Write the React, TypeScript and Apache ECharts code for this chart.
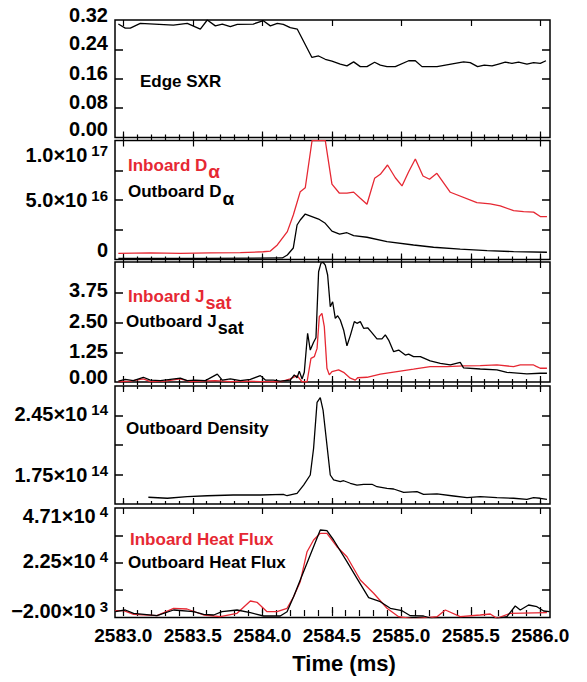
import React, { useEffect, useRef } from 'react';
import * as echarts from 'echarts';

const FONT = "'Liberation Sans', Arial, Helvetica, sans-serif";
const RED = '#e62833';
const BLACK = '#000000';

// ---------- x axis ----------
const xMin = 2582.94;
const xMax = 2586.07;
const xMajorTicks = [2583.0, 2583.5, 2584.0, 2584.5, 2585.0, 2585.5, 2586.0];
const xTickLabels = ['2583.0', '2583.5', '2584.0', '2584.5', '2585.0', '2585.5', '2586.0'];
const xMinorTicks = [
  2583.0, 2583.1, 2583.2, 2583.3, 2583.4, 2583.5, 2583.6, 2583.7, 2583.8, 2583.9,
  2584.0, 2584.1, 2584.2, 2584.3, 2584.4, 2584.5, 2584.6, 2584.7, 2584.8, 2584.9,
  2585.0, 2585.1, 2585.2, 2585.3, 2585.4, 2585.5, 2585.6, 2585.7, 2585.8, 2585.9, 2586.0,
];
const xTitle = 'Time (ms)';

// ---------- Panel 1: Edge SXR ----------
const sxrTime = [2582.964, 2583.014, 2583.050, 2583.122, 2583.360, 2583.460, 2583.554, 2583.604, 2583.662, 2583.712, 2583.770, 2583.820, 2583.935, 2584.007, 2584.058, 2584.108, 2584.151, 2584.201, 2584.252, 2584.357, 2584.405, 2584.453, 2584.501, 2584.561, 2584.609, 2584.657, 2584.705, 2584.753, 2584.808, 2584.849, 2584.897, 2584.957, 2585.053, 2585.101, 2585.149, 2585.257, 2585.448, 2585.496, 2585.549, 2585.597, 2585.653, 2585.700, 2585.748, 2585.796, 2585.844, 2585.904, 2585.952, 2586.000, 2586.041];
const sxrValue = [0.309, 0.298, 0.298, 0.311, 0.306, 0.311, 0.295, 0.320, 0.304, 0.309, 0.302, 0.308, 0.309, 0.318, 0.304, 0.311, 0.308, 0.299, 0.295, 0.218, 0.222, 0.213, 0.208, 0.200, 0.195, 0.206, 0.193, 0.193, 0.205, 0.197, 0.193, 0.193, 0.209, 0.209, 0.193, 0.193, 0.206, 0.204, 0.193, 0.197, 0.195, 0.200, 0.205, 0.202, 0.205, 0.200, 0.204, 0.202, 0.209];
const sxrTicks = [0.08, 0.16, 0.24];
const sxrLabelValues = [0, 0.08, 0.16, 0.24, 0.32];
const sxrLabelMant = ['0.00', '0.08', '0.16', '0.24', '0.32'];
const sxrLabelExp = ['', '', '', '', ''];

// ---------- Panel 2: D alpha ----------
const daInTime = [2582.964, 2583.194, 2583.410, 2583.626, 2583.842, 2584.007, 2584.058, 2584.108, 2584.180, 2584.223, 2584.273, 2584.309, 2584.358, 2584.453, 2584.501, 2584.555, 2584.609, 2584.657, 2584.705, 2584.753, 2584.808, 2584.849, 2584.901, 2584.957, 2585.005, 2585.053, 2585.101, 2585.156, 2585.203, 2585.256, 2585.353, 2585.544, 2585.640, 2585.712, 2585.808, 2585.880, 2585.952, 2586.000, 2586.048];
const daInValue = [0.052e17, 0.055e17, 0.052e17, 0.055e17, 0.057e17, 0.065e17, 0.071e17, 0.122e17, 0.234e17, 0.374e17, 0.570e17, 0.603e17, 1.0e17, 1.0e17, 0.634e17, 0.557e17, 0.557e17, 0.566e17, 0.514e17, 0.464e17, 0.682e17, 0.716e17, 0.794e17, 0.687e17, 0.618e17, 0.738e17, 0.845e17, 0.702e17, 0.674e17, 0.724e17, 0.565e17, 0.478e17, 0.467e17, 0.450e17, 0.411e17, 0.403e17, 0.398e17, 0.361e17, 0.361e17];
const daOutTime = [2582.964, 2583.554, 2584.144, 2584.180, 2584.223, 2584.250, 2584.273, 2584.309, 2584.405, 2584.453, 2584.501, 2584.556, 2584.609, 2584.657, 2584.753, 2584.897, 2585.088, 2585.232, 2585.424, 2585.617, 2585.808, 2586.048];
const daOutValue = [0.010e17, 0.010e17, 0.013e17, 0.038e17, 0.097e17, 0.290e17, 0.332e17, 0.382e17, 0.340e17, 0.304e17, 0.239e17, 0.214e17, 0.225e17, 0.200e17, 0.187e17, 0.150e17, 0.122e17, 0.103e17, 0.088e17, 0.074e17, 0.066e17, 0.061e17];
const daTicks = [2.5e16, 5e16, 7.5e16];
const daLabelValues = [0, 5e16, 1e17];
const daLabelMant = ['0', '5.0×10', '1.0×10'];
const daLabelExp = ['', '16', '17'];

// ---------- Panel 3: J sat ----------
const jsOutTime = [2582.964, 2583.014, 2583.072, 2583.144, 2583.194, 2583.266, 2583.338, 2583.410, 2583.460, 2583.518, 2583.590, 2583.676, 2583.712, 2583.770, 2583.842, 2583.914, 2583.986, 2584.022, 2584.079, 2584.129, 2584.201, 2584.230, 2584.250, 2584.266, 2584.286, 2584.302, 2584.326, 2584.345, 2584.369, 2584.386, 2584.405, 2584.422, 2584.437, 2584.453, 2584.470, 2584.489, 2584.506, 2584.525, 2584.542, 2584.561, 2584.585, 2584.609, 2584.633, 2584.662, 2584.681, 2584.705, 2584.729, 2584.758, 2584.782, 2584.825, 2584.861, 2584.885, 2584.909, 2584.945, 2584.981, 2585.029, 2585.053, 2585.088, 2585.137, 2585.208, 2585.281, 2585.353, 2585.424, 2585.448, 2585.568, 2585.688, 2585.760, 2585.904, 2586.000, 2586.048];
const jsOutValue = [0.04, 0.11, 0.06, 0.20, 0.08, 0.06, 0.11, 0.16, 0.06, 0.08, 0.06, 0.33, 0.08, 0.13, 0.06, 0.11, 0.27, 0.08, 0.08, 0.04, 0.08, 0.30, 0.18, 0.46, 0.13, 0.41, 2.06, 1.35, 1.68, 1.87, 4.66, 5.02, 5.06, 4.94, 4.52, 3.18, 3.39, 2.69, 2.80, 2.62, 2.20, 1.53, 1.96, 2.55, 2.48, 2.55, 2.27, 2.29, 2.13, 1.82, 1.82, 1.99, 1.77, 1.28, 1.35, 1.14, 1.18, 1.07, 1.07, 0.89, 0.79, 0.72, 0.83, 0.60, 0.55, 0.51, 0.41, 0.34, 0.37, 0.37];
const jsInTime = [2582.964, 2583.050, 2583.144, 2583.194, 2583.302, 2583.410, 2583.482, 2583.554, 2583.662, 2583.770, 2583.878, 2583.986, 2584.129, 2584.201, 2584.250, 2584.286, 2584.322, 2584.350, 2584.374, 2584.394, 2584.410, 2584.429, 2584.446, 2584.465, 2584.482, 2584.501, 2584.549, 2584.585, 2584.633, 2584.669, 2584.686, 2584.753, 2584.849, 2584.969, 2585.088, 2585.208, 2585.329, 2585.448, 2585.568, 2585.688, 2585.808, 2585.856, 2585.952, 2585.971, 2586.000, 2586.048];
const jsInValue = [0.01, 0.04, 0.13, 0.02, 0.04, 0.13, 0.02, 0.04, 0.06, 0.02, 0.04, 0.02, 0.01, 0.13, 0.27, 0.01, 0.01, 1.00, 1.07, 1.42, 2.76, 2.90, 2.34, 0.58, 0.30, 0.44, 0.51, 0.41, 0.16, 0.08, 0.18, 0.20, 0.33, 0.44, 0.54, 0.65, 0.65, 0.68, 0.69, 0.72, 0.65, 0.72, 0.72, 0.66, 0.58, 0.58];
const jsTicks = [1.25, 2.5, 3.75];
const jsLabelValues = [0, 1.25, 2.5, 3.75];
const jsLabelMant = ['0.00', '1.25', '2.50', '3.75'];
const jsLabelExp = ['', '', '', ''];

// ---------- Panel 4: Outboard density ----------
const denTime = [2583.180, 2583.317, 2583.460, 2583.604, 2583.791, 2583.986, 2584.151, 2584.178, 2584.250, 2584.297, 2584.345, 2584.369, 2584.394, 2584.417, 2584.437, 2584.465, 2584.489, 2584.513, 2584.561, 2584.585, 2584.633, 2584.681, 2584.729, 2584.789, 2584.825, 2584.897, 2584.945, 2585.017, 2585.113, 2585.160, 2585.257, 2585.376, 2585.473, 2585.568, 2585.688, 2585.808, 2585.904, 2585.952, 2586.000, 2586.048];
const denValue = [1.480e14, 1.468e14, 1.487e14, 1.498e14, 1.507e14, 1.507e14, 1.515e14, 1.498e14, 1.527e14, 1.625e14, 1.744e14, 2.061e14, 2.607e14, 2.661e14, 2.515e14, 2.100e14, 1.744e14, 1.685e14, 1.665e14, 1.676e14, 1.646e14, 1.625e14, 1.634e14, 1.634e14, 1.605e14, 1.586e14, 1.578e14, 1.539e14, 1.546e14, 1.515e14, 1.519e14, 1.495e14, 1.475e14, 1.487e14, 1.475e14, 1.468e14, 1.456e14, 1.475e14, 1.468e14, 1.456e14];
const denTicks = [1.75e14, 2.10e14, 2.45e14];
const denLabelValues = [1.75e14, 2.45e14];
const denLabelMant = ['1.75×10', '2.45×10'];
const denLabelExp = ['14', '14'];

// ---------- Panel 5: Heat flux ----------
const hfInTime = [2582.942, 2583.002, 2583.074, 2583.242, 2583.362, 2583.458, 2583.578, 2583.698, 2583.818, 2583.914, 2583.962, 2584.034, 2584.106, 2584.178, 2584.225, 2584.273, 2584.322, 2584.369, 2584.417, 2584.465, 2584.537, 2584.609, 2584.705, 2584.801, 2584.897, 2584.981, 2585.088, 2585.257, 2585.317, 2585.424, 2585.568, 2585.640, 2585.688, 2585.784, 2586.048];
const hfInValue = [1050, 1050, -565, -1193, 2125, 1811, -879, -1641, -117, 5399, 4816, 601, 601, 2125, 7327, 14053, 27505, 32751, 35755, 35755, 29747, 25263, 14815, 8851, 2125, -1641, -2673, -1641, 1363, -1641, -879, -431, -2359, -117, 152];
const hfOutTime = [2582.942, 2583.014, 2583.074, 2583.242, 2583.362, 2583.506, 2583.578, 2583.650, 2583.710, 2583.818, 2583.914, 2584.009, 2584.129, 2584.178, 2584.225, 2584.273, 2584.345, 2584.417, 2584.465, 2584.513, 2584.609, 2584.681, 2584.765, 2584.849, 2584.921, 2585.005, 2585.065, 2585.160, 2585.232, 2585.424, 2585.640, 2585.760, 2585.820, 2585.856, 2585.916, 2585.976, 2586.024, 2586.067];
const hfOutValue = [601, 1363, -117, -1193, 1363, 601, -565, -879, 601, 1363, 152, -1327, -1327, 601, 7327, 14815, 26025, 37235, 36921, 32751, 23021, 15577, 6878, 5085, 2125, 1049, -1193, -1327, -2673, -3121, -3121, -1641, 3157, 1363, 3605, 2843, 915, 601];
const hfTicks = [10275, 22550, 34825];
const hfLabelValues = [-2000, 22550, 47100];
const hfLabelMant = ['−2.00×10', '2.25×10', '4.71×10'];
const hfLabelExp = ['3', '4', '4'];

// ---------- layout ----------
const GRID_LEFT = 115;
const GRID_WIDTH = 435;
const panels = [
  { top: 20, height: 117.5, yMin: 0, yMax: 0.32, ticks: sxrTicks, lv: sxrLabelValues, lm: sxrLabelMant, le: sxrLabelExp, dy: [-9, -6, -6, -6, -5] },
  { top: 140.5, height: 119, yMin: 0, yMax: 1e17, ticks: daTicks, lv: daLabelValues, lm: daLabelMant, le: daLabelExp, dy: [-9.5, 0, 14] },
  { top: 262, height: 120, yMin: 0, yMax: 5.07, ticks: jsTicks, lv: jsLabelValues, lm: jsLabelMant, le: jsLabelExp, dy: [-5, -1.5, -2, -3.5] },
  { top: 386, height: 118, yMin: 1.4e14, yMax: 2.8e14, ticks: denTicks, lv: denLabelValues, lm: denLabelMant, le: denLabelExp, dy: [0, -2] },
  { top: 508, height: 109.5, yMin: -2000, yMax: 47100, ticks: hfTicks, lv: hfLabelValues, lm: hfLabelMant, le: hfLabelExp, dy: [-7, -2, 7.5] },
];

const seriesDefs = [
  { panel: 0, time: sxrTime, value: sxrValue, color: BLACK },
  { panel: 1, time: daInTime, value: daInValue, color: RED },
  { panel: 1, time: daOutTime, value: daOutValue, color: BLACK },
  { panel: 2, time: jsInTime, value: jsInValue, color: RED },
  { panel: 2, time: jsOutTime, value: jsOutValue, color: BLACK },
  { panel: 3, time: denTime, value: denValue, color: BLACK },
  { panel: 4, time: hfInTime, value: hfInValue, color: RED },
  { panel: 4, time: hfOutTime, value: hfOutValue, color: BLACK },
];

const annotations = [
  { x: 140, y: 81, main: 'Edge SXR', sub: '', subSize: 17, color: BLACK },
  { x: 128, y: 165, main: 'Inboard D', sub: 'α', subSize: 19, color: RED },
  { x: 128, y: 191.5, main: 'Outboard D', sub: 'α', subSize: 19, color: BLACK },
  { x: 128, y: 296.5, main: 'Inboard J', sub: 'sat', subSize: 18, color: RED },
  { x: 126, y: 321.5, main: 'Outboard J', sub: 'sat', subSize: 18, color: BLACK },
  { x: 126, y: 428, main: 'Outboard Density', sub: '', subSize: 17, color: BLACK },
  { x: 130, y: 539, main: 'Inboard Heat Flux', sub: '', subSize: 17, color: RED },
  { x: 128, y: 562.5, main: 'Outboard Heat Flux', sub: '', subSize: 17, color: BLACK },
];

function nearestIndex(arr: number[], v: number) {
  let best = 0;
  let bd = Infinity;
  arr.forEach((a, i) => {
    const d = Math.abs(a - v);
    if (d < bd) { bd = d; best = i; }
  });
  return best;
}

function buildOption() {
  const grid: any[] = [];
  const xAxis: any[] = [];
  const yAxis: any[] = [];
  const tickStyle = { color: BLACK, width: 1.2 };

  panels.forEach((p, i) => {
    grid.push({
      left: GRID_LEFT, width: GRID_WIDTH, top: p.top, height: p.height,
      show: true, borderColor: BLACK, borderWidth: 1.5, backgroundColor: 'transparent',
      containLabel: false, outerBoundsMode: 'none',
    });
    grid.push({
      left: GRID_LEFT, width: GRID_WIDTH, top: p.top, height: p.height,
      show: false, containLabel: false, outerBoundsMode: 'none',
    });
    const baseX = {
      type: 'value', min: xMin, max: xMax,
      axisLine: { show: false }, splitLine: { show: false },
      axisLabel: { show: false },
    };
    xAxis.push({ ...baseX, gridIndex: 2 * i, position: 'bottom',
      axisTick: { show: true, inside: true, length: 3, lineStyle: tickStyle, customValues: xMinorTicks } });
    xAxis.push({ ...baseX, gridIndex: 2 * i, position: 'top',
      axisTick: { show: true, inside: true, length: 3, lineStyle: tickStyle, customValues: xMinorTicks } });
    xAxis.push({ ...baseX, gridIndex: 2 * i + 1, position: 'bottom',
      axisTick: { show: true, inside: true, length: 6, lineStyle: tickStyle, customValues: xMajorTicks },
      axisLabel: i === panels.length - 1 ? {
        show: true, customValues: xMajorTicks, margin: 8,
        fontFamily: FONT, fontWeight: 'bold', fontSize: 19, color: BLACK,
        formatter: (v: number) => xTickLabels[nearestIndex(xMajorTicks, v)],
      } : { show: false } });
    xAxis.push({ ...baseX, gridIndex: 2 * i + 1, position: 'top',
      axisTick: { show: true, inside: true, length: 6, lineStyle: tickStyle, customValues: xMajorTicks } });

    const rich: any = {};
    p.lv.forEach((_v, k) => {
      const dy = p.dy[k];
      const pt = Math.max(0, 2 * dy);
      const pb = Math.max(0, -2 * dy);
      rich['m' + k] = { fontSize: 20, fontWeight: 'bold', fontFamily: FONT, color: BLACK, padding: [pt, 0, pb, 0], verticalAlign: 'middle' };
      rich['s' + k] = { fontSize: 15, fontWeight: 'bold', fontFamily: FONT, color: BLACK, padding: [pt, 0, pb + 9, 4], verticalAlign: 'middle' };
    });
    const baseY = { type: 'value', min: p.yMin, max: p.yMax, splitLine: { show: false }, axisLine: { show: false } };
    yAxis.push({ ...baseY, gridIndex: 2 * i, position: 'left',
      axisTick: { show: true, inside: true, length: 8, lineStyle: { color: BLACK, width: 1.5 }, customValues: p.ticks },
      axisLabel: {
        show: true, customValues: p.lv, margin: 7, align: 'right',
        fontFamily: FONT, fontWeight: 'bold', fontSize: 20, color: BLACK, rich,
        formatter: (v: number) => {
          const k = nearestIndex(p.lv, v);
          return p.le[k] ? `{m${k}|${p.lm[k]}}{s${k}|${p.le[k]}}` : `{m${k}|${p.lm[k]}}`;
        },
      } });
    yAxis.push({ ...baseY, gridIndex: 2 * i, position: 'right',
      axisTick: { show: true, inside: true, length: 8, lineStyle: { color: BLACK, width: 1.5 }, customValues: p.ticks },
      axisLabel: { show: false } });
    yAxis.push({ ...baseY, gridIndex: 2 * i + 1, show: false });
  });

  const series = seriesDefs.map((s) => ({
    type: 'line',
    xAxisIndex: 4 * s.panel,
    yAxisIndex: 3 * s.panel,
    data: s.time.map((t, k) => [t, s.value[k]]),
    showSymbol: false,
    symbol: 'none',
    lineStyle: { color: s.color, width: 1.3 },
    itemStyle: { color: s.color },
    clip: true,
    z: 3,
  }));

  const graphic: any[] = annotations.map((a) => ({
    type: 'text',
    x: a.x, y: a.y, silent: true, z: 10,
    style: {
      text: a.sub ? `{m|${a.main}}{s|${a.sub}}` : `{m|${a.main}}`,
      rich: {
        m: { fill: a.color, fontSize: 17, fontWeight: 'bold', fontFamily: FONT, verticalAlign: 'middle' },
        s: { fill: a.color, fontSize: a.subSize, fontWeight: 'bold', fontFamily: FONT, padding: [13, 0, 0, 1], verticalAlign: 'middle' },
      },
      fill: a.color,
      font: `bold 17px ${FONT}`,
      align: 'left', verticalAlign: 'middle',
      textAlign: 'left', textVerticalAlign: 'middle',
    },
  }));
  graphic.push({
    type: 'text', x: 344, y: 663, silent: true, z: 10,
    style: {
      text: xTitle, fill: BLACK, font: `bold 22px ${FONT}`,
      align: 'center', verticalAlign: 'middle', textAlign: 'center', textVerticalAlign: 'middle',
    },
  });

  return {
    animation: false,
    backgroundColor: '#ffffff',
    grid, xAxis, yAxis, series, graphic,
  };
}

export default function App() {
  const ref = useRef<HTMLDivElement>(null);
  useEffect(() => {
    if (!ref.current) return;
    const chart = echarts.init(ref.current, undefined, { renderer: 'svg' });
    chart.setOption(buildOption() as any);
    return () => chart.dispose();
  }, []);
  return (
    <div
      ref={ref}
      style={{ position: 'absolute', left: 0, top: 0, width: 587, height: 682, background: '#fff' }}
    />
  );
}
